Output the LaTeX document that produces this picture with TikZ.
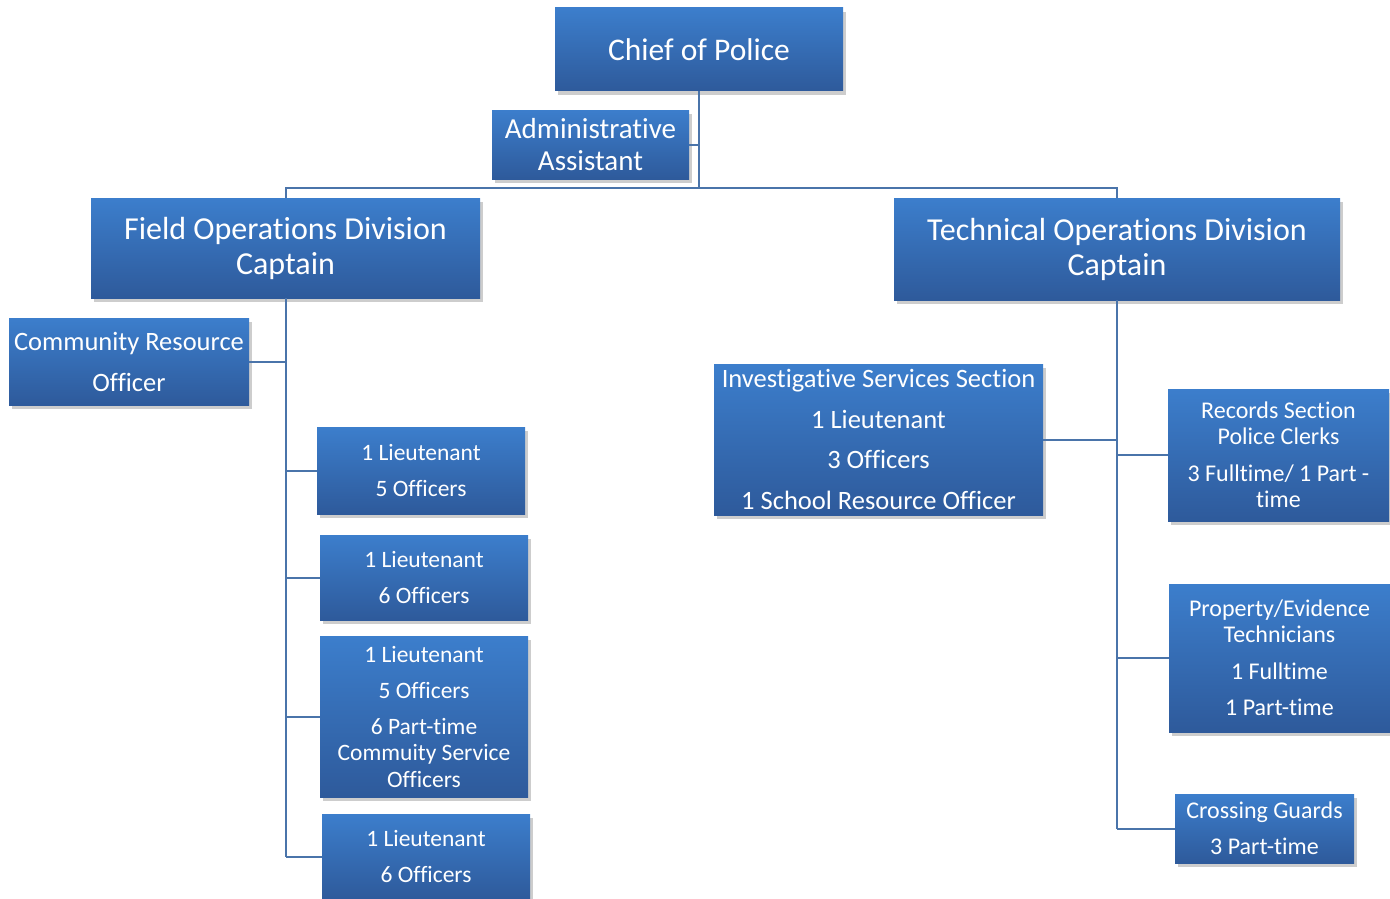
\documentclass[tikz,border=0pt]{standalone}
\usepackage{fontspec}
\setmainfont{Carlito}[Ligatures=NoCommon]
\usepackage{tikz}
\usetikzlibrary{shadows}

\definecolor{boxtop}{RGB}{60,126,204}
\definecolor{boxbot}{RGB}{46,90,155}
\definecolor{linkblue}{RGB}{74,116,170}

\tikzset{
  box/.style={top color=boxtop, bottom color=boxbot, text=white, inner sep=0pt, align=center,
    drop shadow={shadow xshift=3pt, shadow yshift=-4pt, opacity=0.28, fill=black!70}},
  link/.style={color=linkblue, line width=2pt},
}

\begin{document}
\begin{tikzpicture}[x=1pt,y=-1pt]
  \useasboundingbox (0,0) rectangle (1390,899);

  \node[box, minimum width=288pt, minimum height=83pt, font=\fontsize{31.5}{35}\selectfont] (chief) at (699,49.5) {Chief of Police};
  \node[box, minimum width=197pt, minimum height=69pt, font=\fontsize{29}{32}\selectfont] (admin) at (590.5,144.5) {Administrative\\Assistant};
  \node[box, minimum width=389pt, minimum height=100pt, font=\fontsize{32}{35}\selectfont] (field) at (285.5,248) {Field Operations Division\\Captain};
  \node[box, minimum width=446pt, minimum height=102pt, font=\fontsize{32}{35}\selectfont] (tech) at (1117,249) {Technical Operations Division\\Captain};

  \node[box, minimum width=240pt, minimum height=87pt, font=\fontsize{26.5}{41}\selectfont] (cro) at (129,361.5) {Community Resource\\Officer};
  \node[box, minimum width=208pt, minimum height=87pt, font=\fontsize{23.5}{36}\selectfont] (lt1) at (421,470.5) {1 Lieutenant\\5 Officers};
  \node[box, minimum width=208pt, minimum height=85pt, font=\fontsize{23.5}{36}\selectfont] (lt2) at (424,577.5) {1 Lieutenant\\6 Officers};
  \node[box, minimum width=208pt, minimum height=161pt, font=\fontsize{23.5}{26.5}\selectfont] (lt3) at (424,716.5) {1 Lieutenant\\[9.5pt]5 Officers\\[9.5pt]6 Part-time\\Commuity Service\\Officers};
  \node[box, minimum width=208pt, minimum height=85pt, font=\fontsize{23.5}{36}\selectfont] (lt4) at (426,856.5) {1 Lieutenant\\6 Officers};

  \node[box, minimum width=329pt, minimum height=151pt, font=\fontsize{26.5}{40.7}\selectfont] (invest) at (878.5,439.5) {Investigative Services Section\\1 Lieutenant\\3 Officers\\1 School Resource Officer};
  \node[box, minimum width=221pt, minimum height=132pt, font=\fontsize{24}{26}\selectfont] (records) at (1278.5,455) {Records Section\\Police Clerks\\[11pt]3 Fulltime/ 1 Part -\\time};
  \node[box, minimum width=221pt, minimum height=148pt, font=\fontsize{24}{26}\selectfont] (property) at (1279.5,658) {Property/Evidence\\Technicians\\[11pt]1 Fulltime\\[10pt]1 Part-time};
  \node[box, minimum width=179pt, minimum height=69pt, font=\fontsize{24}{36}\selectfont] (crossing) at (1264.5,828.5) {Crossing Guards\\3 Part-time};

  \coordinate (hub) at (699,188);
  \draw[link] (chief.south) -- (hub);
  \draw[link] (admin.east) -- (admin.east -| chief.south);
  \draw[link] (field.north) |- (hub) -| (tech.north);

  \draw[link] (field.south) -- (field.south |- lt4.west);
  \draw[link] (cro.east) -- (cro.east -| field.south);
  \foreach \n in {lt1,lt2,lt3,lt4}
  {
  \draw[link] (field.south |- \n.west) -- (\n.west);
  }

  \draw[link] (tech.south) -- (tech.south |- crossing.west);
  \draw[link] (invest.east) -- (invest.east -| tech.south);
  \foreach \n in {records,property,crossing}
  {
  \draw[link] (tech.south |- \n.west) -- (\n.west);
  }
\end{tikzpicture}
\end{document}
